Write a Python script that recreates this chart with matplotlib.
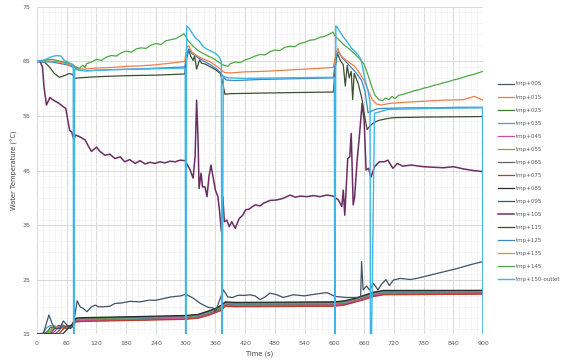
import matplotlib
matplotlib.use("Agg")
import matplotlib.pyplot as plt
from matplotlib.ticker import MultipleLocator

# ---- data ----
# top (hot) sensors
t145 = [0, 10, 20, 30, 40, 50, 60, 70, 78, 85, 92, 97, 100, 110, 120, 130, 140, 150, 160, 170, 180, 190,
        200, 210, 220, 230, 240, 250, 260, 270, 280, 290, 296, 300, 305, 315, 325, 335, 345, 355, 365, 375,
        385, 390, 400, 410, 420, 430, 440, 450, 460, 470, 480, 490, 500, 510, 520, 530, 540, 550, 560, 570,
        580, 590, 597, 602, 610, 620, 630, 640, 650, 660, 668, 675, 682, 690, 697, 703, 710, 716, 722, 730,
        740, 750, 760, 770, 780, 790, 800, 810, 820, 830, 840, 850, 860, 870, 880, 890, 900]
v145 = [65.0, 65.1, 65.3, 65.4, 65.2, 65.0, 64.8, 64.5, 64.0, 63.7, 64.3, 63.9, 64.6, 64.9, 65.4, 65.2,
        65.8, 66.1, 66.0, 66.6, 66.9, 66.7, 67.3, 67.5, 67.4, 68.0, 68.3, 68.1, 68.8, 69.0, 69.2, 69.7,
        70.1, 69.6, 68.8, 67.8, 67.0, 66.5, 66.0, 65.6, 65.0, 64.4, 64.1, 64.6, 64.9, 64.8, 65.3, 65.6,
        66.0, 66.3, 66.2, 66.8, 67.1, 67.0, 67.6, 67.8, 67.7, 68.3, 68.5, 68.9, 69.0, 69.4, 69.6, 70.0,
        70.4, 69.6, 68.9, 68.0, 67.3, 66.5, 65.6, 64.5, 62.5, 60.5, 58.8, 58.0, 57.8, 58.3, 58.0, 58.6,
        58.2, 58.8, 59.0, 59.3, 59.6, 59.8, 60.1, 60.3, 60.6, 60.8, 61.1, 61.3, 61.6, 61.8, 62.1, 62.4,
        62.6, 62.9, 63.2]

t135 = [0, 20, 40, 60, 75, 85, 95, 120, 150, 180, 210, 240, 270, 298, 302, 306, 312, 320, 330, 340, 350,
        360, 370, 378, 390, 420, 460, 500, 540, 580, 598, 603, 607, 612, 620, 630, 640, 650, 660, 668, 676,
        685, 695, 710, 740, 780, 820, 860, 875, 882, 890, 900]
v135 = [65.0, 65.1, 65.0, 64.6, 64.1, 63.7, 63.6, 63.8, 63.9, 64.1, 64.2, 64.4, 64.7, 65.0, 67.5, 67.9,
        66.8, 66.2, 65.7, 65.3, 64.9, 64.3, 63.6, 63.0, 62.9, 63.1, 63.2, 63.4, 63.6, 63.8, 63.9, 66.5,
        67.4, 66.2, 65.5, 64.8, 64.2, 63.0, 61.5, 59.8, 58.0, 57.2, 57.0, 57.3, 57.5, 57.7, 57.9, 58.0,
        58.4, 58.6, 58.3, 57.9]

t125 = [0, 30, 60, 75, 85, 100, 150, 200, 250, 298, 302, 306, 312, 320, 330, 340, 350, 360, 370, 376, 382,
        400, 450, 500, 550, 598, 603, 608, 615, 625, 635, 645, 655, 662, 668, 675, 685, 700, 750, 800, 850,
        900]
v125 = [65.0, 64.9, 64.4, 63.9, 63.4, 63.3, 63.5, 63.6, 63.8, 64.0, 66.0, 67.3, 66.5, 66.0, 65.4, 64.9,
        64.4, 63.8, 63.0, 62.2, 61.6, 61.5, 61.7, 61.8, 61.9, 62.0, 66.0, 66.8, 65.8, 64.8, 63.8, 62.8,
        61.5, 59.5, 55.6, 55.9, 56.3, 56.4, 56.5, 56.5, 56.6, 56.6]

t115 = [0, 15, 25, 35, 45, 55, 65, 72, 76, 85, 120, 180, 240, 298, 302, 306, 310, 315, 318, 322, 328, 332,
        340, 350, 360, 370, 375, 379, 390, 450, 520, 598, 602, 606, 612, 618, 622, 626, 630, 634, 637, 640,
        648, 656, 662, 666, 672, 680, 690, 705, 720, 780, 900]
v115 = [65.0, 64.9, 64.0, 62.8, 62.1, 62.4, 62.8, 62.6, 61.9, 62.0, 62.2, 62.4, 62.5, 62.7, 65.5, 67.2,
        66.0, 65.2, 66.0, 63.6, 65.3, 64.7, 64.5, 64.0, 63.5, 62.8, 61.0, 59.0, 59.1, 59.2, 59.3, 59.4,
        64.0, 66.5, 65.2, 64.4, 60.5, 64.3, 62.0, 63.2, 58.0, 62.8, 61.0, 58.0, 54.5, 52.5, 53.2, 53.8,
        54.2, 54.5, 54.7, 54.8, 54.9]

t105 = [0, 6, 11, 14, 19, 26, 33, 43, 53, 58, 62, 66, 70, 74, 78, 86, 97, 104, 110, 120, 127, 137, 147,
        157, 168, 177, 187, 198, 208, 218, 228, 238, 248, 258, 268, 279, 289, 299, 309, 315, 319, 322, 325,
        327, 331, 334, 339, 343, 347, 351, 355, 360, 365, 368, 372, 375, 378, 383, 388, 393, 400, 408, 415,
        421, 428, 435, 441, 450, 457, 470, 484, 497, 511, 521, 531, 544, 558, 571, 585, 598, 608, 615, 618,
        621, 627, 631, 634, 638, 641, 646, 651, 656, 660, 664, 669, 674, 681, 691, 701, 708, 718, 727, 738,
        755, 780, 800, 820, 840, 860, 880, 900]
v105 = [65.0, 65.0, 64.0, 60.4, 57.0, 58.4, 57.9, 57.4, 56.7, 56.4, 54.3, 52.3, 52.1, 50.7, 51.5, 51.2,
        50.6, 49.4, 48.5, 49.3, 48.5, 47.8, 48.0, 47.2, 47.5, 46.6, 47.0, 46.3, 46.8, 46.2, 46.5, 46.3,
        46.6, 46.4, 46.7, 46.6, 46.9, 46.8, 45.1, 43.6, 47.6, 57.9, 50.6, 41.7, 44.5, 42.0, 42.0, 40.2,
        43.9, 46.0, 43.9, 41.4, 40.2, 37.8, 33.8, 40.2, 35.6, 35.9, 34.7, 35.6, 34.4, 36.2, 36.8, 37.8,
        37.9, 38.4, 38.7, 38.5, 39.0, 39.5, 39.6, 39.9, 40.5, 40.1, 40.3, 40.2, 40.4, 40.2, 40.5, 40.3,
        39.6, 38.4, 41.4, 36.8, 47.2, 47.5, 51.8, 38.7, 40.2, 46.9, 51.8, 57.3, 54.3, 45.1, 45.4, 43.8,
        45.7, 46.6, 46.6, 46.9, 45.4, 46.3, 45.8, 46.0, 45.7, 45.6, 45.5, 45.7, 45.3, 45.0, 44.8]

t095 = [0, 13, 20, 24, 30, 36, 46, 53, 60, 67, 72, 77, 81, 87, 93, 101, 110, 117, 124, 134, 147, 157, 171,
        188, 208, 225, 240, 270, 290, 300, 315, 330, 345, 355, 360, 366, 376, 385, 395, 405, 420, 430, 440,
        450, 460, 470, 484, 497, 517, 540, 560, 585, 601, 625, 645, 653, 655, 658, 665, 671, 679, 688, 695,
        704, 711, 719, 733, 753, 766, 793, 820, 847, 874, 900]
v095 = [15.0, 15.1, 17.3, 18.5, 17.0, 16.0, 16.0, 17.4, 16.7, 16.0, 16.4, 18.8, 21.1, 20.0, 19.7, 19.1,
        20.0, 20.3, 20.0, 20.0, 20.1, 20.6, 20.7, 21.0, 20.9, 21.2, 21.2, 21.8, 22.0, 22.3, 21.6, 20.6,
        19.9, 19.8, 19.1, 20.6, 23.1, 21.8, 21.7, 22.1, 22.1, 22.2, 22.0, 21.3, 21.8, 22.5, 22.2, 21.7,
        22.2, 22.0, 22.3, 22.6, 21.9, 21.7, 21.7, 21.8, 28.3, 23.1, 23.8, 23.1, 24.3, 23.1, 24.1, 25.0,
        23.9, 24.9, 25.2, 25.0, 25.2, 25.8, 26.4, 27.0, 27.7, 28.3]

# lower (cold) sensors share one time base
t_low = [0, 12, 20, 28, 36, 44, 52, 60, 70, 78, 90, 200, 300, 325, 345, 360, 372, 380, 400, 600, 620, 640,
         660, 680, 700, 900]
v005 = [15.0, 15.0, 15.0, 15.2, 16.1, 16.6, 16.2, 16.0, 16.4, 17.3, 17.4, 17.6, 17.8, 18.0, 18.5, 19.0,
        19.6, 20.2, 20.1, 20.2, 20.4, 20.9, 21.4, 22.0, 22.3, 22.4]
v015 = [15.0, 15.0, 15.1, 15.9, 16.5, 16.2, 16.0, 16.1, 16.3, 17.4, 17.5, 17.7, 17.9, 18.1, 18.7, 19.1,
        19.8, 20.4, 20.3, 20.4, 20.6, 21.0, 21.6, 22.2, 22.5, 22.6]
v025 = [15.0, 15.0, 15.4, 16.3, 16.0, 16.2, 16.4, 16.0, 16.2, 17.5, 17.6, 17.8, 18.0, 18.2, 18.8, 19.2,
        19.9, 20.5, 20.4, 20.5, 20.7, 21.1, 21.7, 22.3, 22.6, 22.7]
v035 = [15.0, 15.2, 16.2, 16.6, 16.1, 16.3, 16.5, 16.2, 16.4, 17.6, 17.7, 17.9, 18.1, 18.3, 18.9, 19.4,
        20.0, 20.6, 20.5, 20.6, 20.8, 21.2, 21.8, 22.4, 22.7, 22.8]
v045 = [15.0, 15.0, 15.0, 15.0, 15.5, 16.4, 16.7, 16.1, 16.2, 17.3, 17.5, 17.6, 17.9, 18.0, 18.6, 19.0,
        19.3, 20.3, 20.2, 20.3, 20.5, 21.0, 21.5, 22.1, 22.4, 22.5]
v055 = [15.0, 15.0, 15.0, 15.6, 16.4, 16.0, 16.3, 16.4, 16.3, 17.7, 17.8, 18.0, 18.2, 18.4, 19.0, 19.5,
        20.1, 20.7, 20.6, 20.7, 20.9, 21.3, 21.9, 22.5, 22.8, 22.9]
v065 = [15.0, 15.0, 15.0, 15.0, 15.0, 15.6, 16.5, 16.4, 16.5, 17.8, 17.9, 18.1, 18.3, 18.5, 19.1, 19.6,
        20.2, 20.8, 20.7, 20.8, 21.0, 21.4, 22.0, 22.6, 22.9, 23.0]
v075 = [15.0, 15.0, 15.0, 15.0, 15.0, 15.0, 15.8, 16.5, 16.6, 17.2, 17.3, 17.5, 17.7, 17.9, 18.4, 18.9,
        19.4, 20.1, 20.0, 20.1, 20.3, 20.8, 21.3, 21.9, 22.2, 22.3]
v085 = [15.0, 15.0, 15.0, 15.0, 15.0, 15.0, 15.0, 15.8, 16.7, 17.9, 18.0, 18.2, 18.4, 18.6, 19.2, 19.7,
        20.3, 20.9, 20.8, 20.9, 21.1, 21.5, 22.1, 22.7, 23.0, 23.0]

# outlet: logger drops to 0 at the switch-over instants
t_out = [0, 10, 20, 30, 40, 48, 55, 62, 68, 73, 74, 76, 85, 100, 150, 200, 250, 299, 300, 302, 307, 313,
         320, 327, 333, 340, 347, 353, 360, 367, 372, 373, 376, 385, 420, 500, 600, 601, 603, 605, 615, 628,
         635, 642, 648, 654, 656, 662, 668, 672, 673, 681, 708, 755, 800, 899, 900]
v_out = [65.0, 65.2, 65.5, 65.9, 66.1, 66.0, 65.2, 64.9, 64.6, 64.4, 0.0, 63.6, 63.4, 63.3, 63.5, 63.6,
         63.7, 63.8, 0.0, 71.5, 71.1, 70.2, 69.3, 68.8, 68.0, 67.4, 67.1, 66.8, 66.5, 65.9, 65.0, 0.0,
         62.3, 62.0, 61.9, 62.0, 62.1, 0.0, 71.5, 71.4, 69.9, 68.3, 67.4, 66.8, 66.2, 65.3, 64.4, 61.6,
         59.5, 57.6, 0.0, 55.5, 56.2, 56.3, 56.4, 56.5, 0.0]

labels = ["tmp+005", "tmp+015", "tmp+025", "tmp+035", "tmp+045", "tmp+055", "tmp+065", "tmp+075",
          "tmp+085", "tmp+095", "tmp+105", "tmp+115", "tmp+125", "tmp+135", "tmp+145", "tmp+150-outlet"]
colors = ["#44546A", "#ED7D31", "#3E7A2E", "#5B9BD5", "#D04AA0", "#70AD47", "#636363", "#C0392B",
          "#2B2B2B", "#3F5468", "#6B2D62", "#3D4F33", "#3C86C8", "#F07F45", "#4EA845", "#3DB5E6"]

series = [(t_low, v005), (t_low, v015), (t_low, v025), (t_low, v035), (t_low, v045), (t_low, v055),
          (t_low, v065), (t_low, v075), (t_low, v085), (t095, v095), (t105, v105), (t115, v115),
          (t125, v125), (t135, v135), (t145, v145), (t_out, v_out)]

fig = plt.figure(figsize=(5.61, 3.62), dpi=100)
ax = fig.add_axes([0.066, 0.0773, 0.795, 0.9034])

for (t, v), lab, col in zip(series, labels, colors):
    lw = 0.9
    if lab == "tmp+105":
        lw = 1.1
    if lab == "tmp+150-outlet":
        lw = 1.0
    ax.plot(t, v, color=col, lw=lw, label=lab)

ax.set_xlim(0, 900)
ax.set_ylim(15, 75)
ax.set_yticks(range(15, 76, 10))
ax.xaxis.set_major_locator(MultipleLocator(60))
ax.xaxis.set_minor_locator(MultipleLocator(12))
ax.yaxis.set_minor_locator(MultipleLocator(2))
ax.grid(which="major", color="#d9d9d9", lw=0.7)
ax.grid(which="minor", color="#f2f2f2", lw=0.5)
ax.set_axisbelow(True)
for s in ax.spines.values():
    s.set_visible(False)
ax.tick_params(which="both", length=0, labelsize=4.5, labelcolor="#595959", pad=5)

ax.set_xlabel("Time (s)", fontsize=4.8, color="#404040", labelpad=3)
ax.set_ylabel("Water Temperature (\u00b0C)", fontsize=4.8, color="#404040", labelpad=3)

fig.legend(loc="upper left", bbox_to_anchor=(0.888, 0.775), frameon=False, fontsize=4.0,
           handlelength=2.9, handletextpad=0.2, labelspacing=1.45, borderpad=0, borderaxespad=0,
           labelcolor="#595959")

fig.savefig("out.png", dpi=100)
